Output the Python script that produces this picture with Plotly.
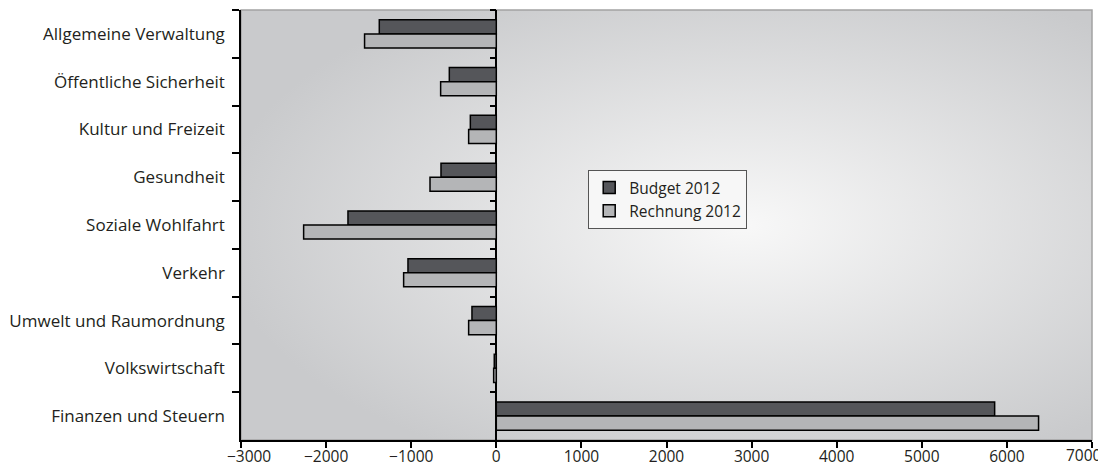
import plotly.graph_objects as go
import urllib.parse

categories = [
    "Allgemeine Verwaltung",
    "Öffentliche Sicherheit",
    "Kultur und Freizeit",
    "Gesundheit",
    "Soziale Wohlfahrt",
    "Verkehr",
    "Umwelt und Raumordnung",
    "Volkswirtschaft",
    "Finanzen und Steuern",
]
budget_2012 = [-1375, -552, -305, -650, -1743, -1038, -286, -24, 5856]
rechnung_2012 = [-1548, -654, -325, -779, -2264, -1089, -325, -31, 6372]
x_ticks = [-3000, -2000, -1000, 0, 1000, 2000, 3000, 4000, 5000, 6000, 7000]
x_tick_labels = ["\u22123000", "\u22122000", "\u22121000", "0", "1000", "2000",
                 "3000", "4000", "5000", "6000", "7000"]

FONT = "Open Sans"
TXT = "#231f20"
NB = "\u00a0"

# first label nudged inward like the original; the last one is drawn as an
# annotation pulled inside the chart edge (Excel keeps it inside the picture)
x_tick_text = list(x_tick_labels)
x_tick_text[0] = NB * 4 + x_tick_text[0]
x_tick_text[-1] = ""

svg = (
    '<svg xmlns="http://www.w3.org/2000/svg" viewBox="0 0 100 100" '
    'preserveAspectRatio="none" width="100" height="100">'
    '<defs><radialGradient id="g" cx="0.59" cy="0.5" r="0.62">'
    '<stop offset="0" stop-color="#f8f8f8"/>'
    '<stop offset="1" stop-color="#c9cacc"/>'
    '</radialGradient></defs>'
    '<rect x="0" y="0" width="100" height="100" fill="url(#g)"/></svg>'
)
svg_uri = "data:image/svg+xml;charset=utf-8," + urllib.parse.quote(svg)

fig = go.Figure()
fig.add_trace(go.Bar(
    name="Budget 2012", y=categories, x=budget_2012, orientation="h",
    marker=dict(color="#55565a", line=dict(color="#000000", width=1.5)),
))
fig.add_trace(go.Bar(
    name="Rechnung 2012", y=categories, x=rechnung_2012, orientation="h",
    marker=dict(color="#b4b5b7", line=dict(color="#000000", width=1.5)),
))
# invisible helper so the zero-position axis (ticks on the zero line) is drawn
fig.add_trace(go.Scatter(
    x=[0] * len(categories), y=categories, yaxis="y2", mode="markers",
    marker=dict(opacity=0), showlegend=False, hoverinfo="skip",
))

fig.update_layout(
    width=1098, height=472,
    margin=dict(l=233, r=14, t=2, b=40, autoexpand=False),
    paper_bgcolor="white",
    plot_bgcolor="rgba(0,0,0,0)",
    barmode="group",
    bargap=0.41,
    bargroupgap=0,
    font=dict(family=FONT, size=16, color=TXT),
    images=[dict(source=svg_uri, xref="paper", yref="paper", x=0, y=1,
                 sizex=1, sizey=1, sizing="stretch", layer="below",
                 xanchor="left", yanchor="top")],
    shapes=[dict(type="rect", xref="paper", yref="paper", x0=0, x1=1, y0=0, y1=1,
                 line=dict(color="#a3a3a3", width=1.5), layer="below")],
    annotations=[dict(
        text=x_tick_labels[-1], x=x_ticks[-1], xref="x", y=0, yref="paper",
        xanchor="center", yanchor="top", xshift=-8, yshift=-2,
        showarrow=False, font=dict(size=15.5, color=TXT, family=FONT),
    )],
    xaxis=dict(
        range=[-3000, 7000], tickvals=x_ticks, ticktext=x_tick_text,
        automargin=False, ticklabeloverflow="allow", ticklabelstandoff=-4,
        showgrid=False, zeroline=True, zerolinecolor="#000000", zerolinewidth=1.5,
        showline=True, linecolor="#000000", linewidth=1.5,
        ticks="outside", ticklen=6, tickcolor="#000000", tickwidth=1.5,
        tickfont=dict(size=15.5, color=TXT),
    ),
    yaxis=dict(
        type="category", categoryarray=categories, autorange="reversed",
        automargin=False,
        showgrid=False, showline=True, linecolor="#000000", linewidth=1.5,
        ticks="outside", ticklen=7, tickcolor="#000000", tickwidth=1.5,
        tickson="boundaries", ticklabelstandoff=11,
        tickfont=dict(size=17, color=TXT),
    ),
    yaxis2=dict(
        type="category", categoryarray=categories, range=[8.5, -0.5],
        overlaying="y", anchor="free", position=0.3, side="left",
        automargin=False,
        showgrid=False, showline=False, showticklabels=False,
        ticks="outside", ticklen=6, tickcolor="#000000", tickwidth=1.5,
        tickson="boundaries",
    ),
    legend=dict(
        x=0.408, y=0.628, xanchor="left", yanchor="top",
        bgcolor="#f7f7f7", bordercolor="#555555", borderwidth=1,
        font=dict(family=FONT, size=15.5, color=TXT),
        traceorder="normal", itemwidth=30,
    ),
)

fig.write_html("out.html")
